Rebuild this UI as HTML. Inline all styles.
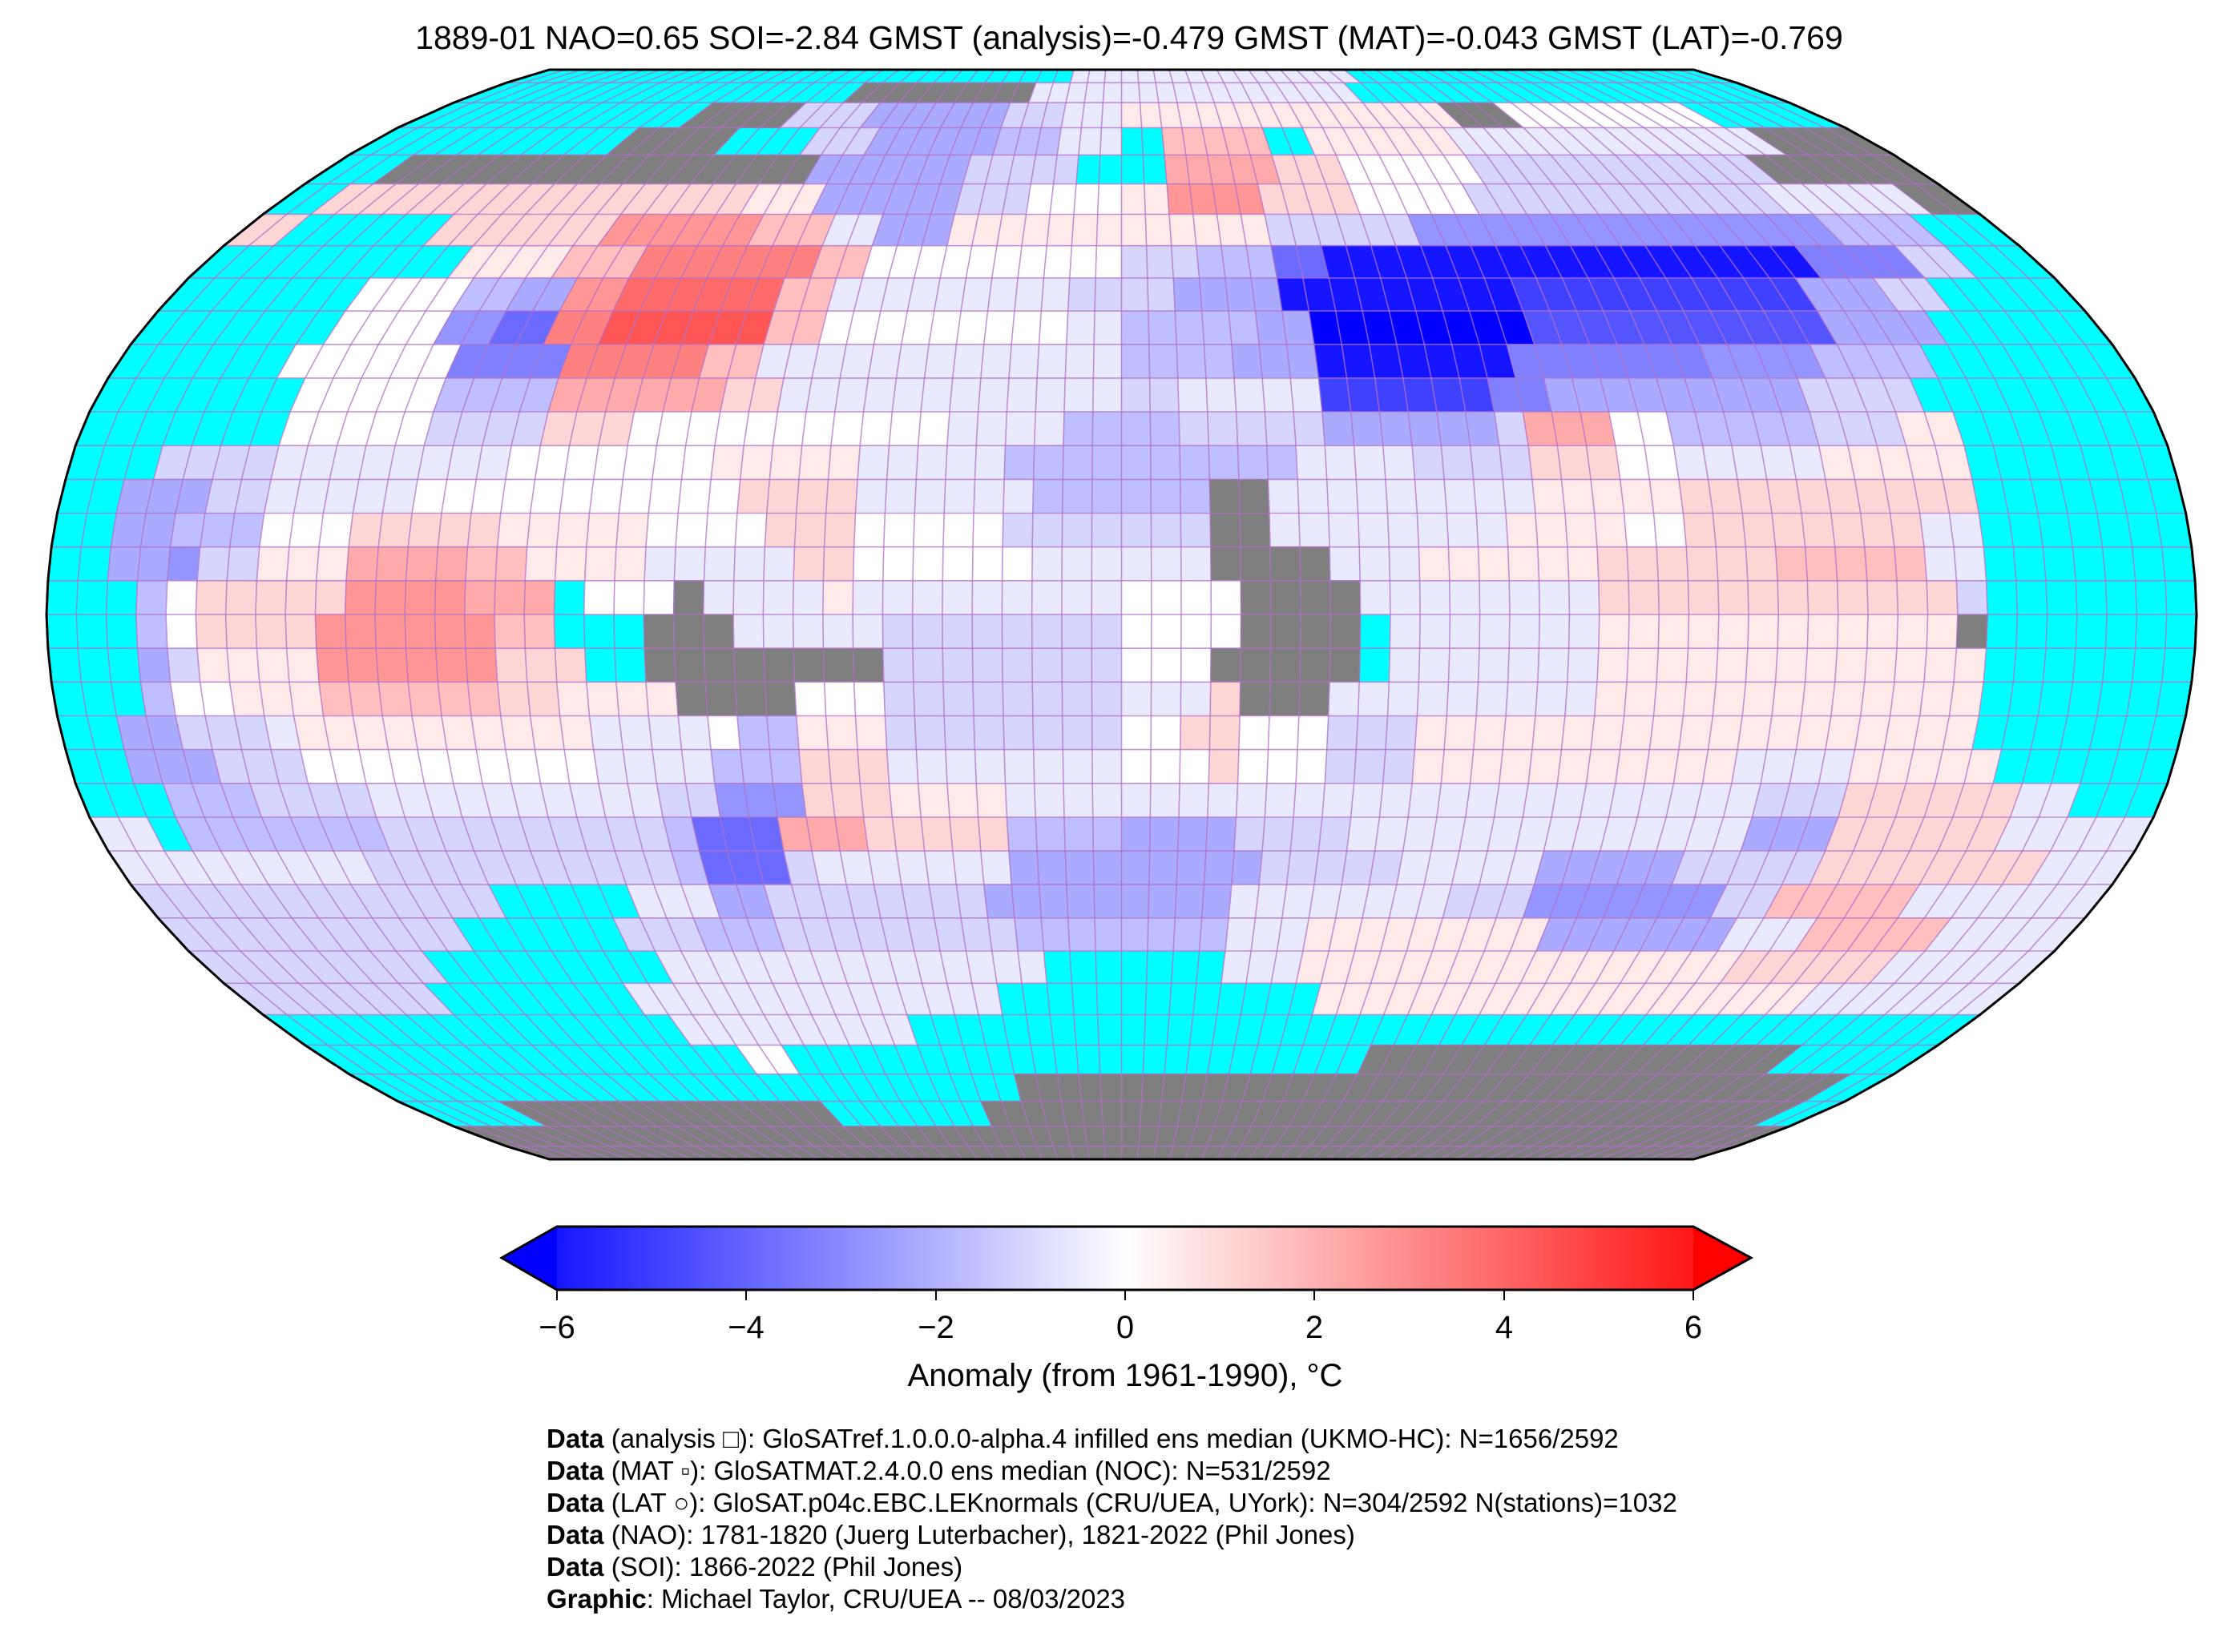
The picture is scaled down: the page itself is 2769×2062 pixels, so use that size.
<!DOCTYPE html>
<html><head><meta charset="utf-8">
<style>
html,body{margin:0;padding:0;background:#fff;}
body{width:2769px;height:2057px;overflow:hidden;}
svg text{font-family:"Liberation Sans",sans-serif;fill:#000;}
</style></head>
<body>
<svg id="s" width="2769" height="2057" viewBox="0 0 2769 2057" xmlns="http://www.w3.org/2000/svg">
<defs>
<clipPath id="clip"><polygon id="clipPoly" points=""/></clipPath>
<linearGradient id="cb" x1="0" x2="1" y1="0" y2="0">
<stop offset="0" stop-color="#0000ff"/><stop offset="0.5" stop-color="#ffffff"/><stop offset="1" stop-color="#ff0000"/>
</linearGradient>
</defs>
<text x="1409" y="61" font-size="41" text-anchor="middle">1889-01 NAO=0.65 SOI=-2.84 GMST (analysis)=-0.479 GMST (MAT)=-0.043 GMST (LAT)=-0.769</text>
<g clip-path="url(#clip)">
<rect x="0" y="0" width="2769" height="1500" fill="#00ffff"/>
<g id="cells"></g>
<g id="grid" fill="none" stroke="#b070c8" stroke-width="1.6" stroke-opacity="0.75"></g>
</g>
<polygon id="border" points="" fill="none" stroke="#000" stroke-width="3"/>

<polygon points="626,1570 695,1531 2113,1531 2185,1570 2113,1610 695,1610" fill="url(#cb)"/>
<polygon points="626,1570 695,1531 695,1610" fill="#0000ff"/>
<polygon points="2185,1570 2113,1531 2113,1610" fill="#ff0000"/>
<polygon points="626,1570 695,1531 2113,1531 2185,1570 2113,1610 695,1610" fill="none" stroke="#000" stroke-width="3"/>
<g stroke="#000" stroke-width="2">
<line x1="695" y1="1610" x2="695" y2="1623"/><line x1="931" y1="1610" x2="931" y2="1623"/>
<line x1="1168" y1="1610" x2="1168" y2="1623"/><line x1="1404" y1="1610" x2="1404" y2="1623"/>
<line x1="1640" y1="1610" x2="1640" y2="1623"/><line x1="1877" y1="1610" x2="1877" y2="1623"/>
<line x1="2113" y1="1610" x2="2113" y2="1623"/>
</g>
<g font-size="40" text-anchor="middle">
<text x="695" y="1670">−6</text><text x="931" y="1670">−4</text><text x="1168" y="1670">−2</text>
<text x="1404" y="1670">0</text><text x="1640" y="1670">2</text><text x="1877" y="1670">4</text><text x="2113" y="1670">6</text>
</g>
<text x="1404" y="1730" font-size="40" text-anchor="middle">Anomaly (from 1961-1990), °C</text>
<g font-size="33">
<text x="682" y="1807"><tspan font-weight="bold">Data</tspan> (analysis □): GloSATref.1.0.0.0-alpha.4 infilled ens median (UKMO-HC): N=1656/2592</text>
<text x="682" y="1847"><tspan font-weight="bold">Data</tspan> (MAT ▫): GloSATMAT.2.4.0.0 ens median (NOC): N=531/2592</text>
<text x="682" y="1887"><tspan font-weight="bold">Data</tspan> (LAT ○): GloSAT.p04c.EBC.LEKnormals (CRU/UEA, UYork): N=304/2592 N(stations)=1032</text>
<text x="682" y="1927"><tspan font-weight="bold">Data</tspan> (NAO): 1781-1820 (Juerg Luterbacher), 1821-2022 (Phil Jones)</text>
<text x="682" y="1967"><tspan font-weight="bold">Data</tspan> (SOI): 1866-2022 (Phil Jones)</text>
<text x="682" y="2007"><tspan font-weight="bold">Graphic</tspan>: Michael Taylor, CRU/UEA -- 08/03/2023</text>
</g>
</svg>
<script>
(function(){
var XT=[1,.9986,.9954,.99,.9822,.973,.96,.9427,.9216,.8962,.8679,.835,.7986,.7597,.7186,.6732,.6213,.5722,.5322];
var YT=[0,.062,.124,.186,.248,.31,.372,.434,.4958,.5571,.6176,.6769,.7346,.7903,.8435,.8936,.9394,.9761,1];
var CX=1399.5,HW=1341.5,CY=767,HH=680;
function interp(T,a){var i=Math.floor(a/5);if(i>=18)return T[18];var t=(a-5*i)/5;return T[i]+(T[i+1]-T[i])*t;}
function P(lat,lon){var a=Math.abs(lat);var x=CX+HW*interp(XT,a)*lon/180;var y=CY-(lat<0?-1:1)*interp(YT,a)*HH;return [x,y];}
function f(p){return p[0].toFixed(1)+","+p[1].toFixed(1);}
var b=[];for(var la=-90;la<=90;la+=1)b.push(f(P(la,180)));for(la=90;la>=-90;la-=1)b.push(f(P(la,-180)));
var bs=b.join(" ");document.getElementById("clipPoly").setAttribute("points",bs);document.getElementById("border").setAttribute("points",bs);
var rows=[
"-15.,70L,180.",
"-75.,-25#,65L,180.",
"-110.,-85#,-65K,-30I,-15K,0L,85N,100#,150M,180.",
"-120.,-95#,-75.,-60K,-30I,-15J,0L,10.,35P,45.,80N,155L,180#",
"-165.,-70#,-35I,-10K,0.,10.,35Q,50O,80M,145K,180#",
"-170.,-80O,-65N,-35I,-20K,0M,10N,30R,50O,75M,140K,170L,180#",
"-170O,-140.,-105O,-75R,-60P,-50L,-35I,0N,30N,60K,145H,165J,180.",
"-130.,-110N,-95P,-60S,-50P,0M,15K,30J,40F,135B,155G,165K,180.",
"-145.,-125M,-115J,-105I,-95R,-65T,-55P,-10L,10K,30I,75B,130D,145I,155K,180.",
"-145.,-125M,-115H,-105F,-95S,-65U,-55P,-10M,0L,25J,35I,75A,130E,150I,180.",
"-150.,-120M,-100G,-75S,-65P,0L,20J,35I,70B,105G,125H,145J,180.",
"-145.,-120M,-100J,-70Q,-60O,0L,10K,35L,65D,75G,120I,140K,180.",
"-145.,-120M,-100K,-85O,-30M,-10L,10J,35K,65I,70K,85Q,95M,120J,135K,145N,180.",
"-165.,-145K,-105L,-70M,-45N,-20L,30J,50L,70K,85O,95M,120L,145N,180.",
"-170.,-155I,-145K,-120L,-65M,-45O,-15L,15J,25#,70L,95N,145O,180.",
"-170.,-160I,-145J,-130M,-105O,-80N,-60M,-45O,-20M,15K,25#,65L,85N,95M,135O,145L,180.",
"-170.,-160I,-155H,-145K,-130N,-110Q,-100P,-80N,-55L,-45O,-15M,15L,35#,50L,80N,110O,135P,145L,180.",
"-165.,-160J,-155M,-130O,-110R,-95Q,-90.,-75M,-70#,-50L,-45N,0L,20M,40#,80L,140O,145K,180.",
"-165.,-160J,-155M,-135O,-105R,-95P,-80.,-65#,-40L,0K,20M,40#,45.,80L,140N,145#,180.",
"-165.,-160I,-155K,-135N,-105R,-90O,-80.,-40#,0K,15M,40#,45.,80L,145N,180.",
"-165.,-160J,-150M,-135N,-105P,-95O,-75N,-55#,-40M,0K,15L,20O,35#,80L,145N,180.",
"-170.,-160I,-145K,-140L,-90N,-70L,-65M,-55J,-40N,0K,10M,20O,35M,50K,145N,180.",
"-170.,-155I,-140K,-90M,-70L,-55J,-40O,0L,15M,20O,35M,50K,105N,125L,150N,180.",
"-165.,-150J,-130K,-80L,-70K,-55H,-40O,-20N,110L,125K,155O,165L,180.",
"-170L,-165.,-130J,-80K,-75J,-60F,-45Q,-20O,0J,20I,40K,110L,125I,155O,180L",
"-135L,-80K,-75J,-60F,-55K,-20L,25I,50K,75L,100I,125K,165O,180L",
"-115K,-90.,-75L,-65I,-25K,20I,60L,75K,110H,120K,145P,180L",
"-125K,-95.,-80K,-65J,-20K,20J,35L,80N,115I,130L,155P,180L",
"-135K,-90.,-15L,20.,35L,120N,150O,180L",
"-140K,-100.,-25L,40.,140N,180L",
"-95.,-45L,180.",
"-85.,-75M,55.,150#,180.",
"-25.,170#,180.",
"-155.,-75#,-35.,170#,180.",
"180#",
"180#"];
function col(c){
 if(c=='#')return "#7f7f7f";
 var v=(c.charCodeAt(0)-77)*0.5,t=Math.max(-1,Math.min(1,v/6)),r,g,bb;
 if(t<0){r=g=Math.round(255*(1+t));bb=255;}else{r=255;g=bb=Math.round(255*(1-t));}
 return "rgb("+r+","+g+","+bb+")";
}
var h="";
for(var i=0;i<rows.length;i++){
 var hi=90-5*i,lo=hi-5,start=-180,segs=rows[i].split(",");
 for(var j=0;j<segs.length;j++){
  var s=segs[j],c=s.charAt(s.length-1),end=parseFloat(s.slice(0,-1));
  if(c!='.'){
   var a=P(hi,start),bq=P(hi,end),cq=P(lo,end),d=P(lo,start);
   h+='<polygon points="'+f(a)+' '+f(bq)+' '+f(cq)+' '+f(d)+'" fill="'+col(c)+'" stroke="'+col(c)+'" stroke-width="0.8"/>';
  }
  start=end;
 }
}
document.getElementById("cells").innerHTML=h;
var g="";
for(var lon=-175;lon<180;lon+=5){var pts=[];for(la=-90;la<=90;la+=1)pts.push(f(P(la,lon)));g+='<polyline points="'+pts.join(" ")+'"/>';}
for(la=-85;la<90;la+=5){var a1=P(la,-180),a2=P(la,180);g+='<line x1="'+a1[0].toFixed(1)+'" y1="'+a1[1].toFixed(1)+'" x2="'+a2[0].toFixed(1)+'" y2="'+a2[1].toFixed(1)+'"/>';}
document.getElementById("grid").innerHTML=g;
})();
</script>
</body></html>
